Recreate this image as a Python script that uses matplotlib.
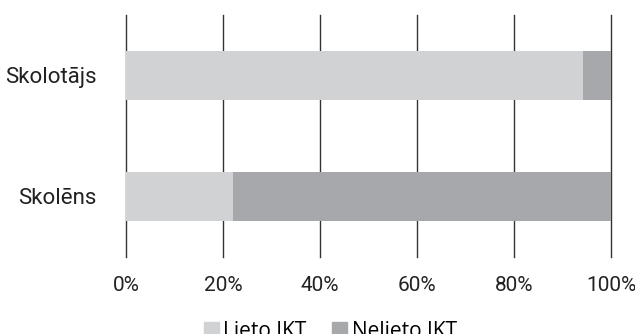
import matplotlib.pyplot as plt
from matplotlib.patches import Patch

# Share of ICT use by role
groups = ["Skolēns", "Skolotājs"]
uses_ict = [22, 94.2]
no_ict = [78, 5.8]
series_names = ["Lieto IKT", "Nelieto IKT"]
x_ticks = [0, 20, 40, 60, 80, 100]

light = "#d1d2d4"
dark = "#a7a8ab"

fig = plt.figure(figsize=(6.35, 3.34), dpi=100)
ax = fig.add_axes([126 / 635, 1 - 257 / 334, 485 / 635, 242 / 334])

ypos = range(len(groups))
ax.barh(ypos, uses_ict, height=0.4, color=light, zorder=2)
ax.barh(ypos, no_ict, left=uses_ict, height=0.4, color=dark, zorder=2)

ax.set_xlim(0, 100)
ax.set_ylim(-0.5, 1.5)
ax.set_xticks(x_ticks)
ax.set_xticklabels([f"{t}%" for t in x_ticks], fontfamily="Roboto", fontsize=15, color="#222222")
ax.set_yticks(list(ypos))
ax.set_yticklabels(groups, fontfamily="Roboto", fontsize=16, color="#222222")
ax.tick_params(length=0)
ax.tick_params(axis="x", pad=14)
ax.tick_params(axis="y", pad=21)
ax.grid(axis="x", color="#333333", linewidth=1.0, zorder=1)
for gl in ax.get_xgridlines():
    gl.set_clip_on(False)
for s in ax.spines.values():
    s.set_visible(False)

handles = [Patch(color=light), Patch(color=dark)]
fig.legend(handles, series_names, loc="upper center", bbox_to_anchor=(0.52, 0.04),
           ncol=2, frameon=False, prop={"family": "Open Sans", "size": 15},
           handlelength=0.72, handleheight=0.72, handletextpad=0.2, columnspacing=1.25,
           borderaxespad=0, borderpad=0)

fig.savefig("out.png", dpi=100)
